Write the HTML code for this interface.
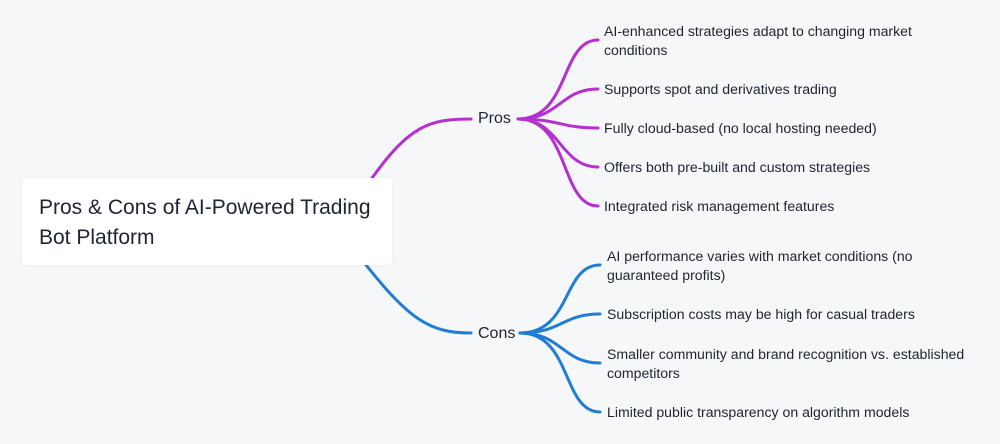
<!DOCTYPE html>
<html><head><style>
body{margin:0;width:1000px;height:444px;background:#f6f7f9;font-family:"Liberation Sans",sans-serif;color:#1e2430;position:relative;overflow:hidden}
.box{position:absolute;left:22px;top:178px;width:370px;height:87px;background:#fff;border-radius:4px;box-shadow:0 0 3px rgba(0,0,0,0.06)}
.root{position:absolute;left:39px;top:193px;font-size:21px;line-height:30px}
.t{position:absolute;font-size:14.1px;line-height:19px;white-space:nowrap}
.m{position:absolute;font-size:16px}
</style></head><body>
<svg width="1000" height="444" style="position:absolute;left:0;top:0" fill="none" stroke-width="3" stroke-linecap="round">
<g stroke="#b530cf">
<path d="M372 178 C410 125 430 119 471 119"/>
<path d="M518 119 C570 119 560 40 598 40"/>
<path d="M518 119 C560 119 560 89 598 89"/>
<path d="M518 119 C560 119 560 128 598 128"/>
<path d="M518 119 C560 119 560 167 598 167"/>
<path d="M518 119 C570 119 560 206 598 206"/>
</g>
<g stroke="#1f7dd6">
<path d="M366 265 C410 320 430 333 471 333"/>
<path d="M520 333 C572 333 562 265 600 265"/>
<path d="M520 333 C562 333 562 314 600 314"/>
<path d="M520 333 C562 333 562 363 600 363"/>
<path d="M520 333 C572 333 562 412 600 412"/>
</g>
</svg>
<div class="box"></div>
<div class="root">Pros &amp; Cons of AI-Powered Trading<br>Bot Platform</div>
<div class="m" style="left:478px;top:110px">Pros</div>
<div class="m" style="left:478px;top:325px">Cons</div>
<div class="t" style="left:604px;top:22px">AI-enhanced strategies adapt to changing market<br>conditions</div>
<div class="t" style="left:604px;top:80px">Supports spot and derivatives trading</div>
<div class="t" style="left:604px;top:119px">Fully cloud-based (no local hosting needed)</div>
<div class="t" style="left:604px;top:158px">Offers both pre-built and custom strategies</div>
<div class="t" style="left:604px;top:197px">Integrated risk management features</div>
<div class="t" style="left:607px;top:247px">AI performance varies with market conditions (no<br>guaranteed profits)</div>
<div class="t" style="left:607px;top:305px">Subscription costs may be high for casual traders</div>
<div class="t" style="left:607px;top:345px">Smaller community and brand recognition vs. established<br>competitors</div>
<div class="t" style="left:607px;top:403px">Limited public transparency on algorithm models</div>
</body></html>
